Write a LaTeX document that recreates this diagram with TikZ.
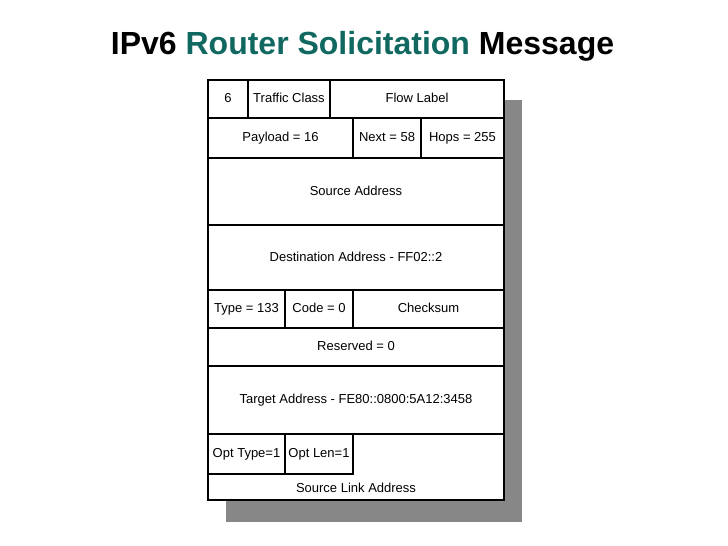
\documentclass[tikz,border=0pt]{standalone}
\usepackage{fontspec}
\setmainfont{Liberation Sans}
\usepackage{tikz}
\usetikzlibrary{positioning}
\definecolor{titleteal}{RGB}{16,104,96}

\begin{document}
\begin{tikzpicture}[
  x=1pt, y=-1pt,
  every node/.style={font=\fontsize{13}{15}\selectfont},
  field/.style={rectangle, draw=black, fill=white, line width=2.5pt, inner sep=0pt, outer sep=0pt, minimum height=38pt, text height=9.5pt, text depth=2.5pt, align=center},
  wide/.style={minimum width=296pt},
  shadowbox/.style={fill=black!47, draw=none}
]
\useasboundingbox (0,0) rectangle (728,546);

\node[anchor=base, font=\fontsize{32}{36}\selectfont\bfseries] (title) at (362.5,54) {IPv6 \textcolor{titleteal}{Router Solicitation} Message};

\fill[shadowbox] (226,100) rectangle (522,522);

\node[field, minimum width=40pt, anchor=north west] (version) at (208,80) {6};
\node[field, minimum width=82pt, right=0pt of version] (tclass) {Traffic Class};
\node[field, minimum width=174pt, right=0pt of tclass] (flow) {Flow Label};

\node[field, minimum width=145pt, minimum height=40pt, anchor=north west] (payload) at (version.south west) {Payload = 16};
\node[field, minimum width=68pt, minimum height=40pt, right=0pt of payload] (next) {Next = 58};
\node[field, minimum width=83pt, minimum height=40pt, right=0pt of next] (hops) {Hops = 255};

\node[field, wide, minimum height=67pt, anchor=north west] (src) at (payload.south west) {Source Address};
\node[field, wide, minimum height=65pt, below=0pt of src] (dst) {Destination Address - FF02::2};

\node[field, minimum width=77pt, anchor=north west] (type) at (dst.south west) {Type = 133};
\node[field, minimum width=68pt, right=0pt of type] (code) {Code = 0};
\node[field, minimum width=151pt, right=0pt of code] (chk) {Checksum};

\node[field, wide, anchor=north west] (resv) at (type.south west) {Reserved = 0};
\node[field, wide, minimum height=68pt, below=0pt of resv] (target) {Target Address - FE80::0800:5A12:3458};

\node[field, wide, minimum height=66pt, below=0pt of target] (link) {};
\node[field, minimum width=77pt, minimum height=40pt, anchor=north west] (opttype) at (link.north west) {Opt Type=1};
\node[field, minimum width=68pt, minimum height=40pt, right=0pt of opttype] (optlen) {Opt Len=1};
\node[above=4pt of link.south] (linktext) {Source Link Address};

\end{tikzpicture}
\end{document}
